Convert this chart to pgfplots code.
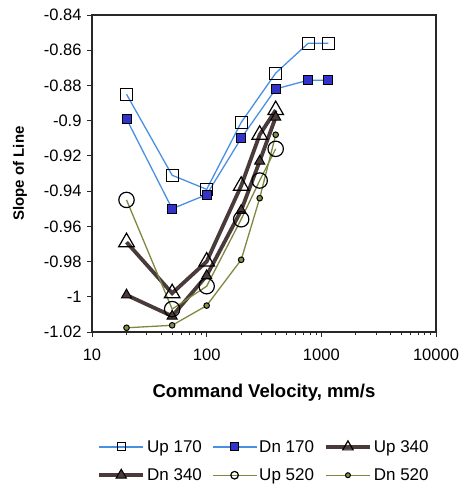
\documentclass[border=0pt]{standalone}
\usepackage{fontspec}
\setmainfont{Liberation Sans}
\usepackage{pgfplots}
\pgfplotsset{compat=1.18}

\definecolor{upblue}{RGB}{74,144,226}
\definecolor{dnfill}{RGB}{51,51,204}
\definecolor{brownline}{RGB}{75,58,58}
\definecolor{oliveline}{RGB}{128,136,64}
\definecolor{olivefill}{RGB}{130,145,70}
\definecolor{frame}{RGB}{40,40,40}

\pgfplotsset{
  up170/.style={color=upblue, line width=1.3bp, mark=square, mark options={draw=black, line width=1.2bp}},
  dn170/.style={color=upblue, line width=1.3bp, mark=square*, mark options={draw=black, fill=dnfill, line width=1bp}},
  up340/.style={color=brownline, line width=3.8bp, mark=triangle, mark options={draw=black, line width=1.2bp}},
  dn340/.style={color=brownline, line width=3.8bp, mark=triangle*, mark options={draw=black, fill=brownline, line width=1bp}},
  up520/.style={color=oliveline, line width=1.3bp, mark=o, mark options={draw=black, line width=1.2bp}},
  dn520/.style={color=oliveline, line width=1.3bp, mark=*, mark options={draw=black, fill=olivefill, line width=1bp}},
}

\begin{document}
\begin{tikzpicture}
\useasboundingbox (-92bp,-154bp) rectangle (368bp,332bp);
\begin{axis}[
  at={(0,0)}, anchor=south west,
  scale only axis, width=344bp, height=317bp,
  xmode=log, xmin=10, xmax=10000,
  ymin=-1.02, ymax=-0.84,
  xtick={10,100,1000,10000},
  xticklabels={10,100,1000,10000},
  minor xtick={20,30,40,50,60,70,80,90,200,300,400,500,600,700,800,900,2000,3000,4000,5000,6000,7000,8000,9000},
  ytick={-1.02,-1,-0.98,-0.96,-0.94,-0.92,-0.9,-0.88,-0.86,-0.84},
  yticklabels={-1.02,-1,-0.98,-0.96,-0.94,-0.92,-0.9,-0.88,-0.86,-0.84},
  tick align=outside, xtick pos=bottom, ytick pos=left,
  major tick length=5bp, minor tick length=3bp,
  axis line style={frame, line width=1.1bp},
  every tick/.style={frame, line width=0.8bp},
  ticklabel style={font=\fontsize{16.5bp}{19bp}\selectfont},
  xticklabel style={yshift=-8bp},
  yticklabel style={xshift=-2bp},
  xlabel={Command Velocity, mm/s},
  ylabel={Slope of Line},
  xlabel style={font=\fontsize{18.5bp}{22bp}\selectfont\bfseries, at={(axis description cs:0.5,0)}, anchor=center, yshift=-61bp},
  ylabel style={font=\fontsize{15bp}{18bp}\selectfont\bfseries, at={(axis description cs:0,0.5)}, anchor=center, yshift=72bp},
  legend style={at={(axis description cs:0.5,0)}, anchor=north, yshift=-104bp,
    draw=none, fill=none, legend columns=3, row sep=11bp,
    font=\fontsize{17bp}{20bp}\selectfont,
    /tikz/every even column/.append style={column sep=8bp}},
  legend cell align=left,
  legend image code/.code={\draw[mark repeat=2, mark phase=2] plot coordinates {(0bp,0bp) (22bp,0bp) (44bp,0bp)};},
]
% legend entries with smaller markers
\addlegendimage{up170, mark size=4bp}
\addlegendentry{Up 170}
\addlegendimage{dn170, mark size=4bp}
\addlegendentry{Dn 170}
\addlegendimage{up340, mark size=6bp}
\addlegendentry{Up 340}
\addlegendimage{dn340, mark size=6bp}
\addlegendentry{Dn 340}
\addlegendimage{up520, mark size=3.8bp}
\addlegendentry{Up 520}
\addlegendimage{dn520, mark size=2.5bp}
\addlegendentry{Dn 520}

\addplot[up170, mark size=6bp, forget plot] coordinates {
  (20,-0.885) (50,-0.931) (100,-0.939) (200,-0.901) (400,-0.873) (770,-0.856) (1150,-0.856)};
\addplot[dn170, mark size=4.5bp, forget plot] coordinates {
  (20,-0.899) (50,-0.950) (100,-0.942) (200,-0.910) (400,-0.882) (770,-0.877) (1150,-0.877)};
\addplot[up340, mark size=9bp, forget plot] coordinates {
  (20,-0.969) (50,-0.998) (100,-0.980) (200,-0.937) (290,-0.908) (400,-0.894)};
\addplot[dn340, mark size=5.8bp, forget plot] coordinates {
  (20,-0.999) (50,-1.011) (100,-0.988) (200,-0.951) (290,-0.923) (400,-0.898)};
\addplot[up520, mark size=7.7bp, forget plot] coordinates {
  (20,-0.945) (50,-1.007) (100,-0.994) (200,-0.956) (290,-0.934) (400,-0.916)};
\addplot[dn520, mark size=2.8bp, forget plot] coordinates {
  (20,-1.0176) (50,-1.0162) (100,-1.005) (200,-0.979) (290,-0.944) (400,-0.908)};
\end{axis}
\end{tikzpicture}
\end{document}
